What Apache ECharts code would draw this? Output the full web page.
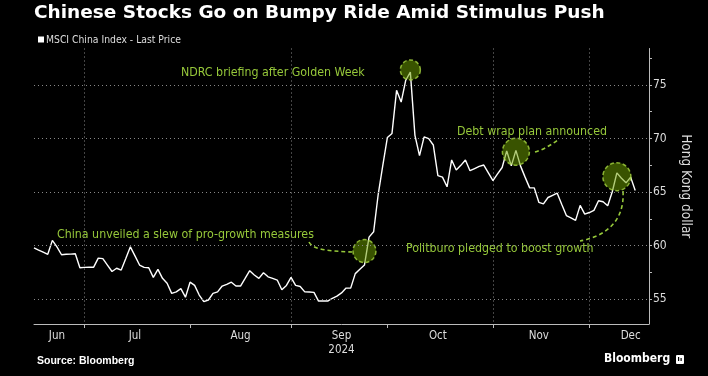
<!DOCTYPE html>
<html>
<head>
<meta charset="utf-8">
<script src="https://cdn.jsdelivr.net/npm/echarts@6/dist/echarts.min.js"></script>
<style>
html, body { margin: 0; padding: 0; background: #000; }
#main { width: 708px; height: 376px; }
</style>
</head>
<body>
<div id="main"></div>
<script>
var narrow = "'DejaVu Sans Condensed', sans-serif";
var green = '#96c83a';

// MSCI China Index, last price (HKD), weekdays from Jun 14 2024
var prices = [
  59.81, 59.6, 59.4, 59.2, 60.5, 59.9, 59.16, 59.2, 59.22, 59.25,
  57.95, 57.98, 58.0, 58.0, 58.85, 58.8, 58.2, 57.6, 57.9, 57.73,
  58.8, 59.9, 59.05, 58.2, 57.98, 57.95, 57.05, 57.8, 56.96, 56.5,
  55.56, 55.7, 56.0, 55.2, 56.6, 56.3, 55.4, 54.78, 54.94, 55.56,
  55.7, 56.24, 56.4, 56.6, 56.24, 56.24, 56.95, 57.67, 57.27, 56.96,
  57.48, 57.1, 56.95, 56.8, 55.9, 56.3, 57.05, 56.3, 56.2, 55.7,
  55.68, 55.65, 54.84, 54.84, 54.84, 55.1, 55.3, 55.6, 56.05, 56.05,
  57.4, 57.8, 58.2, 60.8, 61.3, 64.8, 67.5, 70.1, 70.48, 74.5,
  73.4, 75.44, 76.2, 70.3, 68.4, 70.15, 70.0, 69.4, 66.54, 66.4,
  65.5, 68.0, 67.06, 67.5, 68.0, 67.0, 67.2, 67.4, 67.53, 66.8,
  66.07, 66.7, 67.3, 68.85, 67.45, 68.9, 67.45, 66.4, 65.4, 65.4,
  64.05, 63.9, 64.5, 64.7, 64.9, 63.85, 62.82, 62.6, 62.37, 63.77,
  62.95, 63.1, 63.3, 64.2, 64.1, 63.73, 65.04, 66.8, 66.3, 65.87,
  66.4, 65.15
];

// axis runs over weekdays, a few days past the last close
var days = [];
var d = new Date(Date.UTC(2024, 5, 14));
var last = new Date(Date.UTC(2024, 11, 19));
while (d <= last) {
  var wd = d.getUTCDay();
  if (wd > 0 && wd < 6) days.push(d.toISOString().slice(0, 10));
  d.setUTCDate(d.getUTCDate() + 1);
}

var monthStarts = ['2024-07-01', '2024-08-01', '2024-09-02', '2024-10-01', '2024-11-01', '2024-12-02'];
var gridMonths = ['2024-07-01', '2024-09-02', '2024-11-01', '2024-12-02'];
var labelDays = ['2024-06-21', '2024-07-16', '2024-08-16', '2024-09-17', '2024-10-16', '2024-11-15', '2024-12-13'];
var labelNames = ['Jun', 'Jul', 'Aug', 'Sep\n2024', 'Oct', 'Nov', 'Dec'];

var yLabels = [55, 60, 65, 70, 75];
var yTicks = [55, 57.5, 60, 62.5, 65, 67.5, 70, 72.5, 75, 77.5];

// highlighted events
var eventDays = ['2024-09-24', '2024-10-08', '2024-11-08', '2024-12-10'];
var eventLevels = [59.5, 76.4, 68.77, 66.44];
var eventSizes = [23, 20, 27, 28];

var events = eventDays.map(function (day, i) {
  return { value: [day, eventLevels[i]], symbolSize: eventSizes[i] };
});

function txt(x, y, s, opt) {
  return {
    type: 'text', x: x, y: y, silent: true,
    style: Object.assign({ text: s, fill: green, font: '12.3px ' + narrow, textVerticalAlign: 'middle' }, opt || {})
  };
}
function dash(shape) {
  return {
    type: 'bezierCurve', silent: true, shape: shape,
    style: { stroke: green, lineWidth: 1.6, lineDash: [4, 3], fill: null }
  };
}

var option = {
  backgroundColor: '#000',
  animation: false,
  title: {
    text: 'Chinese Stocks Go on Bumpy Ride Amid Stimulus Push',
    left: 34, top: 4, padding: 0,
    textStyle: { color: '#fff', fontSize: 18.5, fontWeight: 'bold', fontFamily: 'DejaVu Sans, sans-serif' }
  },
  grid: { left: 34, right: 59, top: 48.5, bottom: 52 },
  xAxis: {
    type: 'category',
    data: days,
    boundaryGap: false,
    axisLine: { lineStyle: { color: '#bbb' } },
    axisTick: {
      length: 4,
      lineStyle: { color: '#bbb' },
      interval: function (i, v) { return monthStarts.indexOf(v) >= 0; }
    },
    axisLabel: {
      color: '#ddd', fontSize: 11.5, fontFamily: narrow, margin: 5, lineHeight: 14,
      interval: function (i, v) { return labelDays.indexOf(v) >= 0; },
      formatter: function (v) { return labelNames[labelDays.indexOf(v)]; }
    },
    splitLine: {
      show: true,
      interval: function (i, v) { return gridMonths.indexOf(v) >= 0; },
      lineStyle: { color: '#888', type: [1, 3], width: 1 }
    }
  },
  yAxis: {
    type: 'value',
    position: 'right',
    min: 52.7,
    max: 78.4,
    name: 'Hong Kong dollar',
    nameLocation: 'middle',
    nameRotate: -90,
    nameGap: 29,
    nameTextStyle: { color: '#ddd', fontSize: 13.5, fontFamily: narrow },
    axisLine: { show: true, lineStyle: { color: '#bbb' } },
    axisTick: { show: true, length: 3, customValues: yTicks, lineStyle: { color: '#bbb' } },
    axisLabel: { customValues: yLabels, color: '#ddd', fontSize: 12, fontFamily: narrow, margin: 4 },
    splitLine: { show: false }
  },
  series: [{
    type: 'line',
    name: 'MSCI China Index - Last Price',
    data: prices,
    z: 2,
    showSymbol: false,
    lineStyle: { color: '#fff', width: 1.4 },
    markLine: {
      silent: true,
      symbol: ['none', 'none'],
      label: { show: false },
      lineStyle: { color: '#888', type: [1, 3], width: 1 },
      data: yLabels.map(function (v) { return { yAxis: v }; })
    }
  }, {
    type: 'scatter',
    data: events,
    z: 3,
    silent: true,
    itemStyle: { color: 'rgba(110,160,0,0.65)', borderColor: '#a6d640', borderWidth: 1.5, borderType: [4, 2.5] }
  }],
  graphic: [
    { type: 'rect', shape: { x: 38, y: 36.5, width: 6, height: 6 }, style: { fill: '#fff' } },
    txt(46, 40, 'MSCI China Index - Last Price', { fill: '#ddd', font: '10.3px ' + narrow }),
    txt(181, 73, 'NDRC briefing after Golden Week'),
    txt(57, 235, 'China unveiled a slew of pro-growth measures'),
    txt(457, 132, 'Debt wrap plan announced'),
    txt(406, 249, 'Politburo pledged to boost growth'),
    dash({ x1: 309, y1: 242, cpx1: 313, cpy1: 250, cpx2: 330, cpy2: 251, x2: 352, y2: 252 }),
    dash({ x1: 535, y1: 152, cpx1: 542, cpy1: 150, cpx2: 550, cpy2: 146, x2: 559, y2: 139 }),
    dash({ x1: 623, y1: 191, cpx1: 625, cpy1: 224, cpx2: 602, cpy2: 237, x2: 580, y2: 241 }),
    txt(37, 361, 'Source: Bloomberg', { fill: '#fff', font: 'bold 10.5px Liberation Sans, sans-serif' }),
    txt(604, 359, 'Bloomberg', { fill: '#fff', font: 'bold 12px ' + narrow }),
    { type: 'rect', shape: { x: 676, y: 355, width: 8, height: 9, r: 1 }, style: { fill: '#fff' } },
    { type: 'rect', shape: { x: 678, y: 357, width: 1.2, height: 4 }, style: { fill: '#000' } },
    { type: 'rect', shape: { x: 680.5, y: 358, width: 1.2, height: 3 }, style: { fill: '#000' } }
  ]
};

var myChart = echarts.init(document.getElementById('main'));
myChart.setOption(option);
</script>
</body>
</html>
